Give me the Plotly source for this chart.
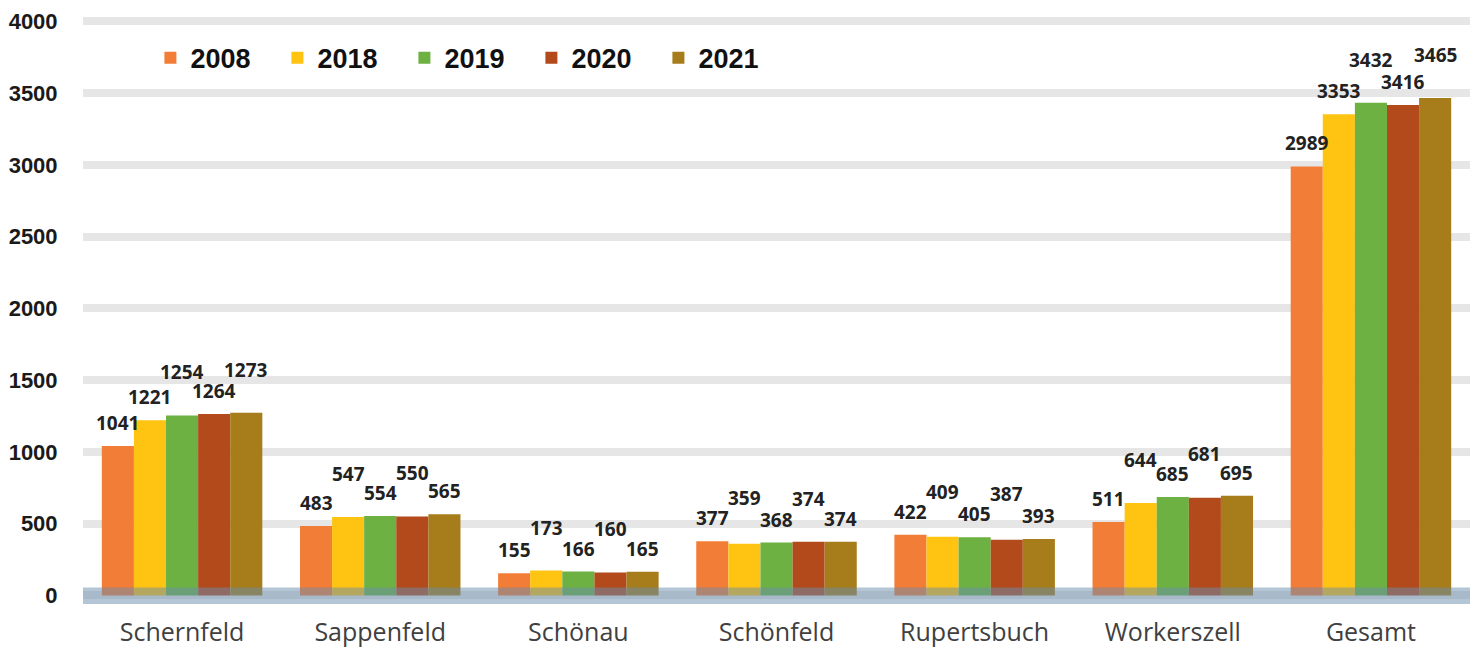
import plotly.graph_objects as go

categories = ["Schernfeld", "Sappenfeld", "Schönau", "Schönfeld", "Rupertsbuch", "Workerszell", "Gesamt"]
years = ["2008", "2018", "2019", "2020", "2021"]
v2008 = [1041, 483, 155, 377, 422, 511, 2989]
v2018 = [1221, 547, 173, 359, 409, 644, 3353]
v2019 = [1254, 554, 166, 368, 405, 685, 3432]
v2020 = [1264, 550, 160, 374, 387, 681, 3416]
v2021 = [1273, 565, 165, 374, 393, 695, 3465]
series = [v2008, v2018, v2019, v2020, v2021]
colors = ["#F17D36", "#FFC312", "#6CB142", "#B24A1C", "#A77C1A"]

# the page body has an 8px margin, so the figure is drawn 8px smaller
W, H = 1470, 643
ML, MR, MT, MB = 75, 8, 9, 47
YMIN, YMAX = -60, 4030
BARGAP = 0.19
LABEL_SIZE = 19

fig = go.Figure()
for name, vals, col in zip(years, series, colors):
    fig.add_trace(go.Bar(
        x=categories, y=vals, name=name,
        marker=dict(color=col, line=dict(width=0)),
    ))

# data labels, lifted when they would collide with the neighbour's label
plot_h = H - MT - MB
plot_w = W - ML - MR
px_per_unit = plot_h / (YMAX - YMIN)
bar_w = (1 - BARGAP) / len(series)
bar_px = bar_w * plot_w / len(categories)
label_h = 20 / px_per_unit
pad = 8 / px_per_unit
annotations = []
for i, cat in enumerate(categories):
    prev = None
    for j, vals in enumerate(series):
        v = vals[i]
        txt = str(v)
        tw = len(txt) * 0.58 * LABEL_SIZE
        base = v + pad
        if prev is not None:
            pbase, pw = prev
            overlap_x = (tw + pw) / 2 > bar_px - 2
            if overlap_x and base < pbase + label_h and base + label_h > pbase \
                    and base >= pbase - label_h * 0.3:
                base = max(base, pbase) + label_h
        prev = (base, tw)
        annotations.append(dict(
            x=i + (j - (len(series) - 1) / 2) * bar_w, y=base, xref="x", yref="y",
            text=txt, showarrow=False, yanchor="bottom", xanchor="center",
            font=dict(family="Open Sans", size=LABEL_SIZE, color="#222222", weight="bold"),
        ))

fig.update_layout(
    width=W, height=H,
    margin=dict(l=ML, r=MR, t=MT, b=MB, autoexpand=False),
    paper_bgcolor="white", plot_bgcolor="white",
    barmode="group", bargap=BARGAP, bargroupgap=0,
    annotations=annotations,
    legend=dict(
        orientation="h", x=0.0486, xanchor="left", y=0.93, yanchor="middle",
        font=dict(family="Liberation Sans, Arial", size=27, color="#111111", weight="bold"),
        bgcolor="rgba(0,0,0,0)", entrywidth=82, itemwidth=30,
    ),
    xaxis=dict(
        type="category", automargin=False,
        range=[-0.5, len(categories) - 0.5],
        showgrid=False, zeroline=False, showline=False,
        ticks="outside", ticklen=6, tickcolor="rgba(0,0,0,0)",
        tickfont=dict(family="Open Sans", size=25, color="#404040"),
        ticklabeloverflow="allow",
    ),
    yaxis=dict(
        range=[YMIN, YMAX], automargin=False,
        tickmode="array", tickvals=[0, 500, 1000, 1500, 2000, 2500, 3000, 3500, 4000],
        showgrid=True, gridcolor="#E6E6E6", gridwidth=8,
        zeroline=False, showline=False,
        ticks="outside", ticklen=20, tickcolor="rgba(0,0,0,0)",
        tickfont=dict(family="Liberation Sans, Arial", size=22, color="#1a1a1a", weight="bold"),
        ticklabeloverflow="allow",
    ),
    shapes=[dict(
        type="rect", xref="paper", yref="y", x0=0, x1=1, y0=YMIN, y1=55,
        fillcolor="rgb(105,141,173)", opacity=0.5, line=dict(width=0), layer="above",
    )],
)

fig.write_html("out.html")
